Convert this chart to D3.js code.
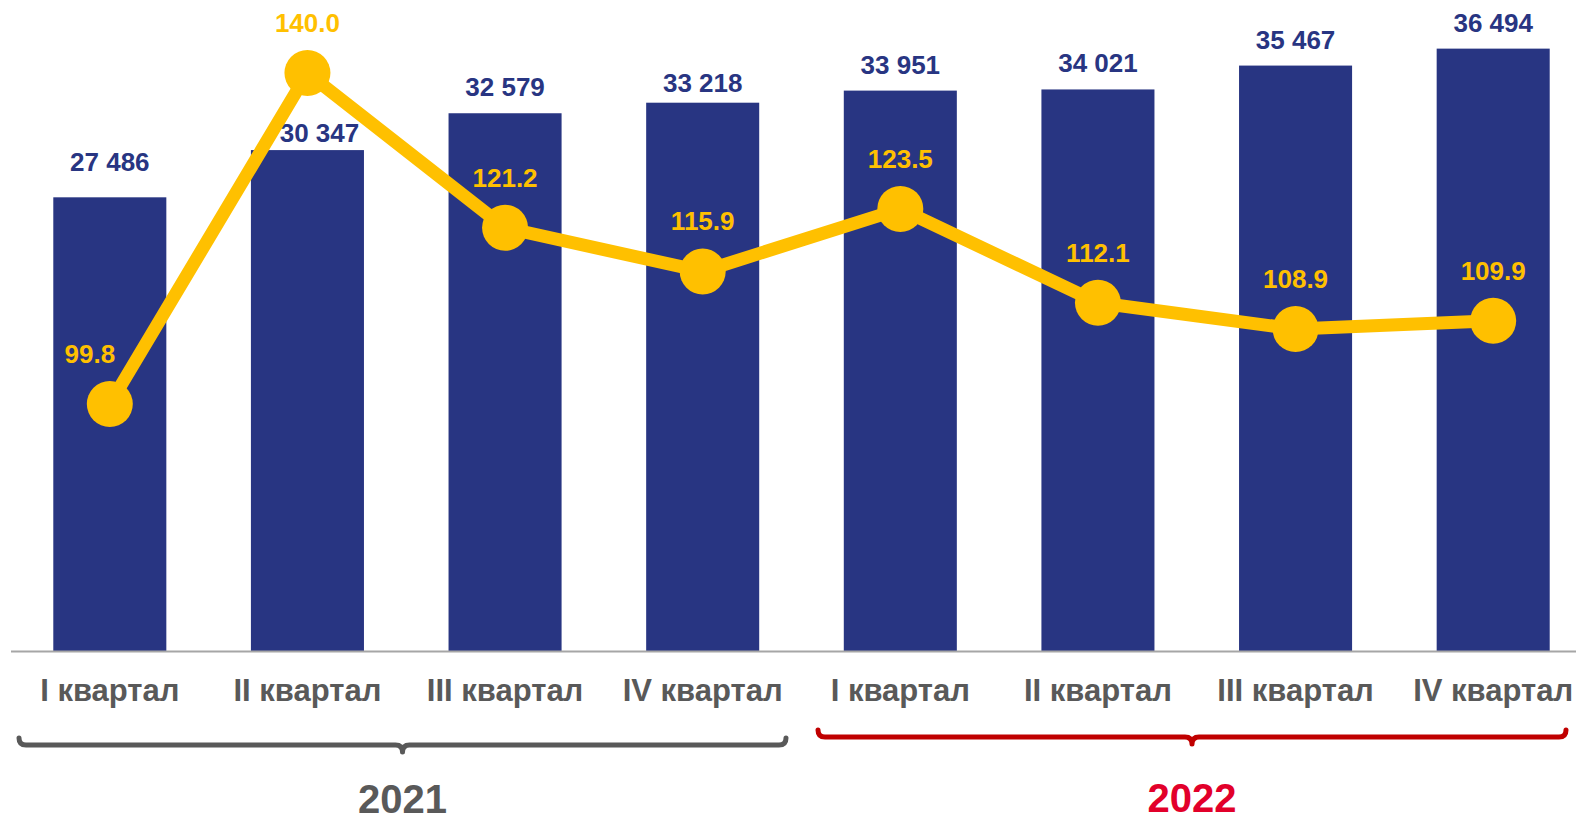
<!DOCTYPE html>
<html>
<head>
<meta charset="utf-8">
<script src="https://cdn.jsdelivr.net/npm/d3@7"></script>
<style>
  body { margin: 0; background: #fff; }
  svg { display: block; font-family: 'Liberation Sans', Arial, sans-serif; font-weight: bold; }
</style>
</head>
<body>
<svg id="svg" width="1576" height="819"></svg>
<script>
const quarters = ['I квартал', 'II квартал', 'III квартал', 'IV квартал', 'I квартал', 'II квартал', 'III квартал', 'IV квартал']
const amounts = [27486, 30347, 32579, 33218, 33951, 34021, 35467, 36494]
const growth = [99.8, 140.0, 121.2, 115.9, 123.5, 112.1, 108.9, 109.9]
const years = ['2021', '2022']

// label nudges (px), as placed in the original
const barLabelGap = [26, 8, 17, 11, 17, 17, 17, 17]
const barLabelDx = [0, 12, 0, 0, 0, 0, 0, 0]

const width = 1576
const baseY = 651
const blue = '#283582'
const yellow = '#FFC000'
const grey = '#595959'

const svg = d3.select('#svg')
const keys = quarters.map((d, i) => i)
const numFormat = d => d3.format(',')(d).replace(/,/g, ' ')

const x = d3.scaleBand()
  .domain(keys)
  .range([11, 1592])
  .paddingInner(0.428)
  .paddingOuter(0.214)

const y = d3.scaleLinear().domain([0, 39440]).range([baseY, 0])
const y2 = d3.scaleLinear().domain([69.8, 148.87]).range([baseY, 0])

// bars
svg.append('g')
  .selectAll('rect')
  .data(amounts)
  .join('rect')
  .attr('x', (d, i) => x(i))
  .attr('y', d => y(d))
  .attr('width', x.bandwidth())
  .attr('height', d => y(0) - y(d))
  .attr('fill', blue)

svg.append('g')
  .selectAll('text')
  .data(amounts)
  .join('text')
  .attr('x', (d, i) => x(i) + x.bandwidth() / 2 + barLabelDx[i])
  .attr('y', (d, i) => y(d) - barLabelGap[i])
  .attr('text-anchor', 'middle')
  .style('font-size', '26px')
  .attr('fill', blue)
  .text(d => numFormat(d))

// axis line
svg.append('line')
  .attr('x1', 11).attr('x2', width)
  .attr('y1', baseY + 0.5).attr('y2', baseY + 0.5)
  .attr('stroke', '#A6A6A6')
  .attr('stroke-width', 2)

// category labels
svg.append('g')
  .selectAll('text')
  .data(quarters)
  .join('text')
  .attr('x', (d, i) => x(i) + x.bandwidth() / 2)
  .attr('y', 701)
  .attr('text-anchor', 'middle')
  .style('font-size', '31px')
  .attr('fill', grey)
  .text(d => d)

// growth line
const cx = i => x(i) + x.bandwidth() / 2
const line = d3.line()
  .x((d, i) => cx(i))
  .y(d => y2(d))

svg.append('path')
  .datum(growth)
  .attr('d', line)
  .attr('fill', 'none')
  .attr('stroke', yellow)
  .attr('stroke-width', 13)
  .attr('stroke-linejoin', 'round')

svg.append('g')
  .selectAll('circle')
  .data(growth)
  .join('circle')
  .attr('cx', (d, i) => cx(i))
  .attr('cy', d => y2(d))
  .attr('r', 23)
  .attr('fill', yellow)

svg.append('g')
  .selectAll('text')
  .data(growth)
  .join('text')
  .attr('x', (d, i) => cx(i) - (i === 0 ? 20 : 0))
  .attr('y', d => y2(d) - 41)
  .attr('text-anchor', 'middle')
  .style('font-size', '26px')
  .attr('fill', yellow)
  .text(d => d.toFixed(1))

// year braces
const brace = (x1, x2, yy, h) => {
  const xm = (x1 + x2) / 2
  return `M${x1},${yy - h} Q${x1},${yy} ${x1 + h},${yy} L${xm - h},${yy} Q${xm},${yy} ${xm},${yy + h} Q${xm},${yy} ${xm + h},${yy} L${x2 - h},${yy} Q${x2},${yy} ${x2},${yy - h}`
}

const yearGroups = [
  { x1: 19, x2: 786, y: 745, color: grey, textColor: grey, ty: 813 },
  { x1: 818, x2: 1566, y: 737, color: '#C00000', textColor: '#E2002A', ty: 812 }
]

yearGroups.forEach((g, i) => {
  svg.append('path')
    .attr('d', brace(g.x1, g.x2, g.y, 7))
    .attr('fill', 'none')
    .attr('stroke', g.color)
    .attr('stroke-width', 5)
    .attr('stroke-linecap', 'round')
    .attr('stroke-linejoin', 'round')

  svg.append('text')
    .attr('x', (g.x1 + g.x2) / 2)
    .attr('y', g.ty)
    .attr('text-anchor', 'middle')
    .style('font-size', '40px')
    .attr('fill', g.textColor)
    .text(years[i])
})
</script>
</body>
</html>
